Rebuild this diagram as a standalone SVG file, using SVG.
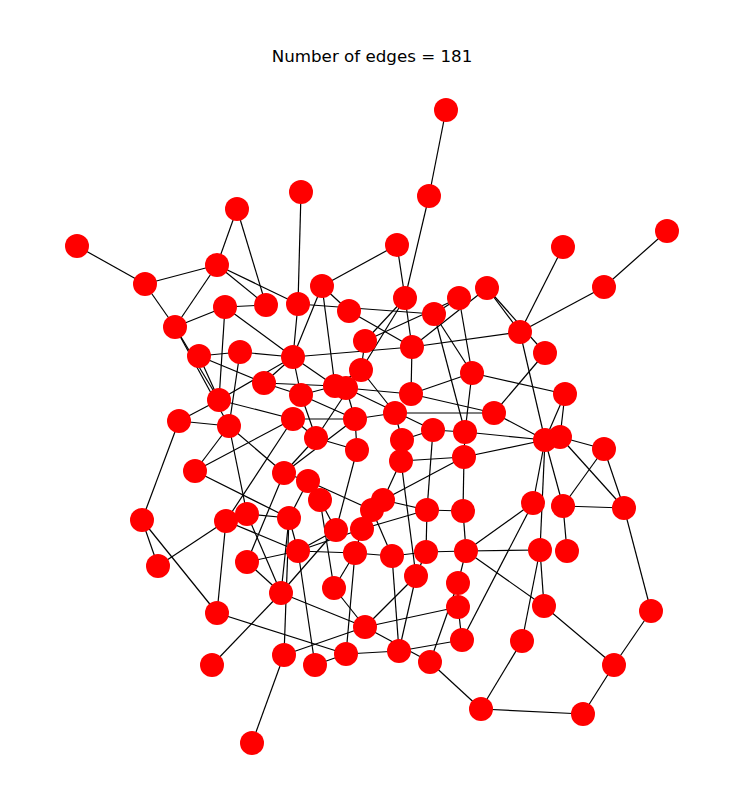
<svg xmlns="http://www.w3.org/2000/svg" width="729" height="806" viewBox="0 0 729 806">
<style>
.e line{stroke:#000;stroke-width:1.2}
.n{fill:#ff0000}
.t{font-family:"DejaVu Sans",sans-serif;font-size:16.7px;fill:#000}
</style>
<rect width="729" height="806" fill="#fff"/>
<text class="t" x="372" y="62" text-anchor="middle">Number of edges = 181</text>
<g id="edges" class="e">
<line x1="446" y1="110" x2="429" y2="196"/>
<line x1="429" y1="196" x2="405" y2="298"/>
<line x1="301" y1="192" x2="298" y2="304"/>
<line x1="237" y1="209" x2="217" y2="265"/>
<line x1="237" y1="209" x2="266" y2="305"/>
<line x1="77" y1="246" x2="145" y2="284"/>
<line x1="145" y1="284" x2="217" y2="265"/>
<line x1="145" y1="284" x2="175" y2="327"/>
<line x1="217" y1="265" x2="175" y2="327"/>
<line x1="217" y1="265" x2="298" y2="304"/>
<line x1="217" y1="265" x2="266" y2="305"/>
<line x1="397" y1="245" x2="322" y2="286"/>
<line x1="397" y1="245" x2="405" y2="298"/>
<line x1="563" y1="247" x2="520" y2="332"/>
<line x1="667" y1="231" x2="604" y2="287"/>
<line x1="604" y1="287" x2="520" y2="332"/>
<line x1="520" y1="332" x2="487" y2="288"/>
<line x1="545" y1="353" x2="487" y2="288"/>
<line x1="520" y1="332" x2="412" y2="347"/>
<line x1="520" y1="332" x2="545" y2="440"/>
<line x1="545" y1="353" x2="494" y2="413"/>
<line x1="472" y1="373" x2="565" y2="394"/>
<line x1="565" y1="394" x2="545" y2="440"/>
<line x1="565" y1="394" x2="560" y2="437"/>
<line x1="225" y1="307" x2="175" y2="327"/>
<line x1="225" y1="307" x2="266" y2="305"/>
<line x1="225" y1="307" x2="219" y2="400"/>
<line x1="225" y1="307" x2="293" y2="357"/>
<line x1="175" y1="327" x2="219" y2="400"/>
<line x1="175" y1="327" x2="229" y2="426"/>
<line x1="199" y1="356" x2="240" y2="352"/>
<line x1="199" y1="356" x2="264" y2="383"/>
<line x1="240" y1="352" x2="293" y2="357"/>
<line x1="240" y1="352" x2="229" y2="426"/>
<line x1="322" y1="286" x2="293" y2="357"/>
<line x1="322" y1="286" x2="349" y2="311"/>
<line x1="322" y1="286" x2="335" y2="386"/>
<line x1="298" y1="304" x2="434" y2="314"/>
<line x1="298" y1="304" x2="293" y2="357"/>
<line x1="349" y1="311" x2="412" y2="347"/>
<line x1="405" y1="298" x2="412" y2="347"/>
<line x1="405" y1="298" x2="365" y2="341"/>
<line x1="405" y1="298" x2="361" y2="370"/>
<line x1="434" y1="314" x2="472" y2="373"/>
<line x1="459" y1="298" x2="434" y2="314"/>
<line x1="459" y1="298" x2="472" y2="373"/>
<line x1="487" y1="288" x2="412" y2="347"/>
<line x1="459" y1="298" x2="365" y2="341"/>
<line x1="434" y1="314" x2="465" y2="432"/>
<line x1="494" y1="413" x2="545" y2="440"/>
<line x1="465" y1="432" x2="545" y2="440"/>
<line x1="464" y1="457" x2="545" y2="440"/>
<line x1="560" y1="437" x2="604" y2="449"/>
<line x1="545" y1="440" x2="533" y2="503"/>
<line x1="545" y1="440" x2="540" y2="550"/>
<line x1="545" y1="440" x2="563" y2="506"/>
<line x1="560" y1="437" x2="624" y2="508"/>
<line x1="604" y1="449" x2="563" y2="506"/>
<line x1="604" y1="449" x2="624" y2="508"/>
<line x1="563" y1="506" x2="624" y2="508"/>
<line x1="563" y1="506" x2="567" y2="551"/>
<line x1="533" y1="503" x2="462" y2="640"/>
<line x1="466" y1="551" x2="540" y2="550"/>
<line x1="540" y1="550" x2="544" y2="606"/>
<line x1="540" y1="550" x2="522" y2="641"/>
<line x1="466" y1="551" x2="544" y2="606"/>
<line x1="298" y1="551" x2="355" y2="553"/>
<line x1="426" y1="552" x2="466" y2="551"/>
<line x1="522" y1="641" x2="481" y2="709"/>
<line x1="365" y1="627" x2="430" y2="662"/>
<line x1="430" y1="662" x2="481" y2="709"/>
<line x1="481" y1="709" x2="583" y2="714"/>
<line x1="416" y1="576" x2="399" y2="651"/>
<line x1="458" y1="583" x2="458" y2="607"/>
<line x1="458" y1="607" x2="462" y2="640"/>
<line x1="365" y1="627" x2="416" y2="576"/>
<line x1="365" y1="627" x2="458" y2="607"/>
<line x1="281" y1="593" x2="365" y2="627"/>
<line x1="315" y1="665" x2="346" y2="654"/>
<line x1="346" y1="654" x2="399" y2="651"/>
<line x1="346" y1="654" x2="355" y2="553"/>
<line x1="399" y1="651" x2="392" y2="556"/>
<line x1="399" y1="651" x2="462" y2="640"/>
<line x1="430" y1="662" x2="458" y2="583"/>
<line x1="334" y1="588" x2="365" y2="627"/>
<line x1="142" y1="520" x2="217" y2="613"/>
<line x1="142" y1="520" x2="158" y2="566"/>
<line x1="226" y1="521" x2="217" y2="613"/>
<line x1="217" y1="613" x2="346" y2="654"/>
<line x1="281" y1="593" x2="247" y2="562"/>
<line x1="281" y1="593" x2="336" y2="530"/>
<line x1="281" y1="593" x2="212" y2="665"/>
<line x1="284" y1="655" x2="252" y2="743"/>
<line x1="284" y1="655" x2="289" y2="518"/>
<line x1="284" y1="655" x2="365" y2="627"/>
<line x1="315" y1="665" x2="298" y2="551"/>
<line x1="179" y1="421" x2="142" y2="520"/>
<line x1="179" y1="421" x2="219" y2="400"/>
<line x1="179" y1="421" x2="229" y2="426"/>
<line x1="219" y1="400" x2="199" y2="356"/>
<line x1="219" y1="400" x2="293" y2="357"/>
<line x1="219" y1="400" x2="293" y2="419"/>
<line x1="229" y1="426" x2="195" y2="471"/>
<line x1="229" y1="426" x2="247" y2="514"/>
<line x1="229" y1="426" x2="284" y2="473"/>
<line x1="293" y1="419" x2="195" y2="471"/>
<line x1="293" y1="419" x2="226" y2="521"/>
<line x1="293" y1="419" x2="355" y2="419"/>
<line x1="293" y1="419" x2="316" y2="438"/>
<line x1="264" y1="383" x2="335" y2="386"/>
<line x1="264" y1="383" x2="301" y2="395"/>
<line x1="301" y1="395" x2="335" y2="386"/>
<line x1="301" y1="395" x2="355" y2="419"/>
<line x1="301" y1="395" x2="316" y2="438"/>
<line x1="316" y1="438" x2="284" y2="473"/>
<line x1="316" y1="438" x2="357" y2="450"/>
<line x1="195" y1="471" x2="289" y2="518"/>
<line x1="284" y1="473" x2="355" y2="419"/>
<line x1="284" y1="473" x2="247" y2="562"/>
<line x1="308" y1="481" x2="289" y2="518"/>
<line x1="320" y1="500" x2="336" y2="530"/>
<line x1="158" y1="566" x2="226" y2="521"/>
<line x1="247" y1="514" x2="289" y2="518"/>
<line x1="226" y1="521" x2="298" y2="551"/>
<line x1="247" y1="514" x2="281" y2="593"/>
<line x1="247" y1="562" x2="298" y2="551"/>
<line x1="298" y1="551" x2="336" y2="530"/>
<line x1="412" y1="347" x2="293" y2="357"/>
<line x1="293" y1="357" x2="264" y2="383"/>
<line x1="293" y1="357" x2="301" y2="395"/>
<line x1="293" y1="357" x2="335" y2="386"/>
<line x1="361" y1="370" x2="365" y2="341"/>
<line x1="361" y1="370" x2="335" y2="386"/>
<line x1="361" y1="370" x2="395" y2="413"/>
<line x1="361" y1="370" x2="316" y2="438"/>
<line x1="346" y1="388" x2="355" y2="419"/>
<line x1="346" y1="388" x2="411" y2="394"/>
<line x1="346" y1="388" x2="433" y2="430"/>
<line x1="411" y1="394" x2="472" y2="373"/>
<line x1="411" y1="394" x2="494" y2="413"/>
<line x1="472" y1="373" x2="465" y2="432"/>
<line x1="355" y1="419" x2="395" y2="413"/>
<line x1="355" y1="419" x2="357" y2="450"/>
<line x1="395" y1="413" x2="402" y2="440"/>
<line x1="395" y1="413" x2="494" y2="413"/>
<line x1="433" y1="430" x2="465" y2="432"/>
<line x1="433" y1="430" x2="402" y2="440"/>
<line x1="465" y1="432" x2="464" y2="457"/>
<line x1="464" y1="457" x2="401" y2="461"/>
<line x1="357" y1="450" x2="336" y2="530"/>
<line x1="401" y1="461" x2="383" y2="500"/>
<line x1="464" y1="457" x2="463" y2="511"/>
<line x1="284" y1="473" x2="308" y2="481"/>
<line x1="308" y1="481" x2="372" y2="510"/>
<line x1="320" y1="500" x2="334" y2="588"/>
<line x1="289" y1="518" x2="298" y2="551"/>
<line x1="383" y1="500" x2="427" y2="510"/>
<line x1="372" y1="510" x2="392" y2="556"/>
<line x1="372" y1="510" x2="362" y2="529"/>
<line x1="383" y1="500" x2="464" y2="457"/>
<line x1="362" y1="529" x2="298" y2="551"/>
<line x1="362" y1="529" x2="355" y2="553"/>
<line x1="362" y1="529" x2="427" y2="510"/>
<line x1="427" y1="510" x2="463" y2="511"/>
<line x1="427" y1="510" x2="426" y2="552"/>
<line x1="427" y1="510" x2="433" y2="430"/>
<line x1="463" y1="511" x2="466" y2="551"/>
<line x1="355" y1="553" x2="392" y2="556"/>
<line x1="392" y1="556" x2="426" y2="552"/>
<line x1="426" y1="552" x2="416" y2="576"/>
<line x1="466" y1="551" x2="458" y2="583"/>
<line x1="334" y1="588" x2="355" y2="553"/>
<line x1="281" y1="593" x2="289" y2="518"/>
<line x1="412" y1="347" x2="411" y2="394"/>
<line x1="544" y1="606" x2="614" y2="665"/>
<line x1="651" y1="611" x2="614" y2="665"/>
<line x1="614" y1="665" x2="583" y2="714"/>
<line x1="624" y1="508" x2="651" y2="611"/>
<line x1="401" y1="461" x2="416" y2="576"/>
<line x1="402" y1="440" x2="401" y2="461"/>
<line x1="533" y1="503" x2="466" y2="551"/>
</g>
<g id="n1"><circle class="n" cx="446" cy="110" r="12"/></g>
<g id="n2"><circle class="n" cx="429" cy="196" r="12"/></g>
<g id="n3"><circle class="n" cx="301" cy="192" r="12"/></g>
<g id="n4"><circle class="n" cx="237" cy="209" r="12"/></g>
<g id="n5"><circle class="n" cx="77" cy="246" r="12"/></g>
<g id="n6"><circle class="n" cx="145" cy="284" r="12"/></g>
<g id="n7"><circle class="n" cx="217" cy="265" r="12"/></g>
<g id="n8"><circle class="n" cx="397" cy="245" r="12"/></g>
<g id="n9"><circle class="n" cx="563" cy="247" r="12"/></g>
<g id="n10"><circle class="n" cx="667" cy="231" r="12"/></g>
<g id="n11"><circle class="n" cx="604" cy="287" r="12"/></g>
<g id="n12"><circle class="n" cx="520" cy="332" r="12"/></g>
<g id="n13"><circle class="n" cx="545" cy="353" r="12"/></g>
<g id="n14"><circle class="n" cx="487" cy="288" r="12"/></g>
<g id="n15"><circle class="n" cx="459" cy="298" r="12"/></g>
<g id="n16"><circle class="n" cx="434" cy="314" r="12"/></g>
<g id="n17"><circle class="n" cx="405" cy="298" r="12"/></g>
<g id="n18"><circle class="n" cx="322" cy="286" r="12"/></g>
<g id="n19"><circle class="n" cx="298" cy="304" r="12"/></g>
<g id="n20"><circle class="n" cx="266" cy="305" r="12"/></g>
<g id="n21"><circle class="n" cx="225" cy="307" r="12"/></g>
<g id="n22"><circle class="n" cx="175" cy="327" r="12"/></g>
<g id="n23"><circle class="n" cx="349" cy="311" r="12"/></g>
<g id="n24"><circle class="n" cx="365" cy="341" r="12"/></g>
<g id="n25"><circle class="n" cx="412" cy="347" r="12"/></g>
<g id="n26"><circle class="n" cx="293" cy="357" r="12"/></g>
<g id="n27"><circle class="n" cx="240" cy="352" r="12"/></g>
<g id="n28"><circle class="n" cx="199" cy="356" r="12"/></g>
<g id="n29"><circle class="n" cx="361" cy="370" r="12"/></g>
<g id="n30"><circle class="n" cx="264" cy="383" r="12"/></g>
<g id="n31"><circle class="n" cx="301" cy="395" r="12"/></g>
<g id="n32"><circle class="n" cx="335" cy="386" r="12"/></g>
<g id="n33"><circle class="n" cx="346" cy="388" r="12"/></g>
<g id="n34"><circle class="n" cx="411" cy="394" r="12"/></g>
<g id="n35"><circle class="n" cx="472" cy="373" r="12"/></g>
<g id="n36"><circle class="n" cx="565" cy="394" r="12"/></g>
<g id="n37"><circle class="n" cx="219" cy="400" r="12"/></g>
<g id="n38"><circle class="n" cx="179" cy="421" r="12"/></g>
<g id="n39"><circle class="n" cx="229" cy="426" r="12"/></g>
<g id="n40"><circle class="n" cx="293" cy="419" r="12"/></g>
<g id="n41"><circle class="n" cx="355" cy="419" r="12"/></g>
<g id="n42"><circle class="n" cx="395" cy="413" r="12"/></g>
<g id="n43"><circle class="n" cx="494" cy="413" r="12"/></g>
<g id="n44"><circle class="n" cx="316" cy="438" r="12"/></g>
<g id="n45"><circle class="n" cx="357" cy="450" r="12"/></g>
<g id="n46"><circle class="n" cx="402" cy="440" r="12"/></g>
<g id="n47"><circle class="n" cx="433" cy="430" r="12"/></g>
<g id="n48"><circle class="n" cx="465" cy="432" r="12"/></g>
<g id="n49"><circle class="n" cx="545" cy="440" r="12"/></g>
<g id="n50"><circle class="n" cx="560" cy="437" r="12"/></g>
<g id="n51"><circle class="n" cx="604" cy="449" r="12"/></g>
<g id="n52"><circle class="n" cx="401" cy="461" r="12"/></g>
<g id="n53"><circle class="n" cx="464" cy="457" r="12"/></g>
<g id="n54"><circle class="n" cx="195" cy="471" r="12"/></g>
<g id="n55"><circle class="n" cx="284" cy="473" r="12"/></g>
<g id="n56"><circle class="n" cx="308" cy="481" r="12"/></g>
<g id="n57"><circle class="n" cx="320" cy="500" r="12"/></g>
<g id="n58"><circle class="n" cx="533" cy="503" r="12"/></g>
<g id="n59"><circle class="n" cx="563" cy="506" r="12"/></g>
<g id="n60"><circle class="n" cx="624" cy="508" r="12"/></g>
<g id="n61"><circle class="n" cx="142" cy="520" r="12"/></g>
<g id="n62"><circle class="n" cx="226" cy="521" r="12"/></g>
<g id="n63"><circle class="n" cx="247" cy="514" r="12"/></g>
<g id="n64"><circle class="n" cx="289" cy="518" r="12"/></g>
<g id="n65"><circle class="n" cx="383" cy="500" r="12"/></g>
<g id="n66"><circle class="n" cx="372" cy="510" r="12"/></g>
<g id="n67"><circle class="n" cx="362" cy="529" r="12"/></g>
<g id="n68"><circle class="n" cx="336" cy="530" r="12"/></g>
<g id="n69"><circle class="n" cx="427" cy="510" r="12"/></g>
<g id="n70"><circle class="n" cx="463" cy="511" r="12"/></g>
<g id="n71"><circle class="n" cx="158" cy="566" r="12"/></g>
<g id="n72"><circle class="n" cx="247" cy="562" r="12"/></g>
<g id="n73"><circle class="n" cx="298" cy="551" r="12"/></g>
<g id="n74"><circle class="n" cx="355" cy="553" r="12"/></g>
<g id="n75"><circle class="n" cx="392" cy="556" r="12"/></g>
<g id="n76"><circle class="n" cx="426" cy="552" r="12"/></g>
<g id="n77"><circle class="n" cx="466" cy="551" r="12"/></g>
<g id="n78"><circle class="n" cx="540" cy="550" r="12"/></g>
<g id="n79"><circle class="n" cx="567" cy="551" r="12"/></g>
<g id="n80"><circle class="n" cx="416" cy="576" r="12"/></g>
<g id="n81"><circle class="n" cx="334" cy="588" r="12"/></g>
<g id="n82"><circle class="n" cx="281" cy="593" r="12"/></g>
<g id="n83"><circle class="n" cx="458" cy="583" r="12"/></g>
<g id="n84"><circle class="n" cx="217" cy="613" r="12"/></g>
<g id="n85"><circle class="n" cx="458" cy="607" r="12"/></g>
<g id="n86"><circle class="n" cx="544" cy="606" r="12"/></g>
<g id="n87"><circle class="n" cx="651" cy="611" r="12"/></g>
<g id="n88"><circle class="n" cx="365" cy="627" r="12"/></g>
<g id="n89"><circle class="n" cx="212" cy="665" r="12"/></g>
<g id="n90"><circle class="n" cx="284" cy="655" r="12"/></g>
<g id="n91"><circle class="n" cx="315" cy="665" r="12"/></g>
<g id="n92"><circle class="n" cx="346" cy="654" r="12"/></g>
<g id="n93"><circle class="n" cx="399" cy="651" r="12"/></g>
<g id="n94"><circle class="n" cx="430" cy="662" r="12"/></g>
<g id="n95"><circle class="n" cx="462" cy="640" r="12"/></g>
<g id="n96"><circle class="n" cx="522" cy="641" r="12"/></g>
<g id="n97"><circle class="n" cx="614" cy="665" r="12"/></g>
<g id="n98"><circle class="n" cx="481" cy="709" r="12"/></g>
<g id="n99"><circle class="n" cx="583" cy="714" r="12"/></g>
<g id="n100"><circle class="n" cx="252" cy="743" r="12"/></g>
</svg>
